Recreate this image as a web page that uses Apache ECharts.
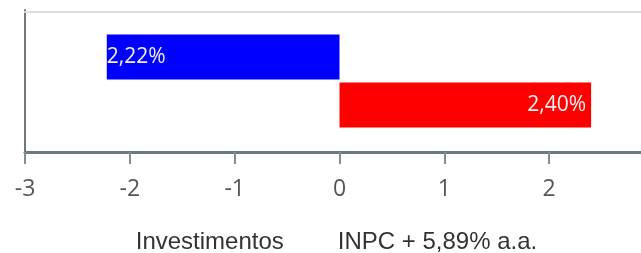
<!DOCTYPE html>
<html><head><meta charset="utf-8">
<script src="https://cdn.jsdelivr.net/npm/echarts@6/dist/echarts.min.js"></script>
<style>html,body{margin:0;padding:0;background:#fff}#c{width:641px;height:253px}</style>
</head><body><div id="c"></div>
<script>
var categories = [''];
var seriesNames = ['Investimentos', 'INPC + 5,89% a.a.'];
var investimentos = [-2.22];
var inpc = [2.40];
var xTicks = [-3, -2, -1, 0, 1, 2, 3];

var chart = echarts.init(document.getElementById('c'));
function fmt(p){ return Math.abs(p.value).toFixed(2).replace('.', ',') + '%'; }
chart.setOption({
  animation: false,
  grid: { left: 25, right: -13, top: 10, bottom: 101, containLabel: false, outerBoundsMode: 'none' },
  legend: {
    data: seriesNames, top: 225, left: 'center',
    itemWidth: 27, itemHeight: 14, itemGap: 22,
    itemStyle: { opacity: 0 },
    textStyle: { fontFamily: 'Liberation Sans', fontSize: 24, color: '#333' }
  },
  xAxis: [{
    type: 'value', min: xTicks[0], max: xTicks[xTicks.length-1], interval: 1,
    position: 'bottom',
    axisLine: { show: true, lineStyle: { color: '#6c7a84', width: 3 } },
    axisTick: { show: true, length: 12, lineStyle: { color: '#7a8e9c', width: 2 } },
    axisLabel: { margin: 26, fontFamily: 'Open Sans', fontSize: 23, color: '#555' },
    splitLine: { show: false }
  }, {
    type: 'value', min: xTicks[0], max: xTicks[xTicks.length-1], interval: 1,
    position: 'top', offset: -2,
    axisLine: { show: true, lineStyle: { color: '#dddddd', width: 2 } },
    axisTick: { show: false }, axisLabel: { show: false }, splitLine: { show: false }
  }],
  yAxis: {
    type: 'category', data: categories,
    axisLine: { show: true, onZero: false, lineStyle: { color: '#777', width: 2 } },
    axisTick: { show: false }, axisLabel: { show: false }
  },
  series: [{
    name: seriesNames[0], type: 'bar', data: investimentos,
    barWidth: 45, barGap: '7%',
    itemStyle: { color: '#0000ff' },
    label: { show: true, position: 'insideLeft', distance: 0, formatter: fmt,
      fontFamily: 'Open Sans', fontSize: 21, color: '#f0f0f0' }
  }, {
    name: seriesNames[1], type: 'bar', data: inpc,
    barWidth: 45, barGap: '7%',
    itemStyle: { color: '#ff0000' },
    label: { show: true, position: 'insideRight', distance: 5, formatter: fmt,
      fontFamily: 'Open Sans', fontSize: 21, color: '#f0f0f0' }
  }]
});
</script></body></html>
